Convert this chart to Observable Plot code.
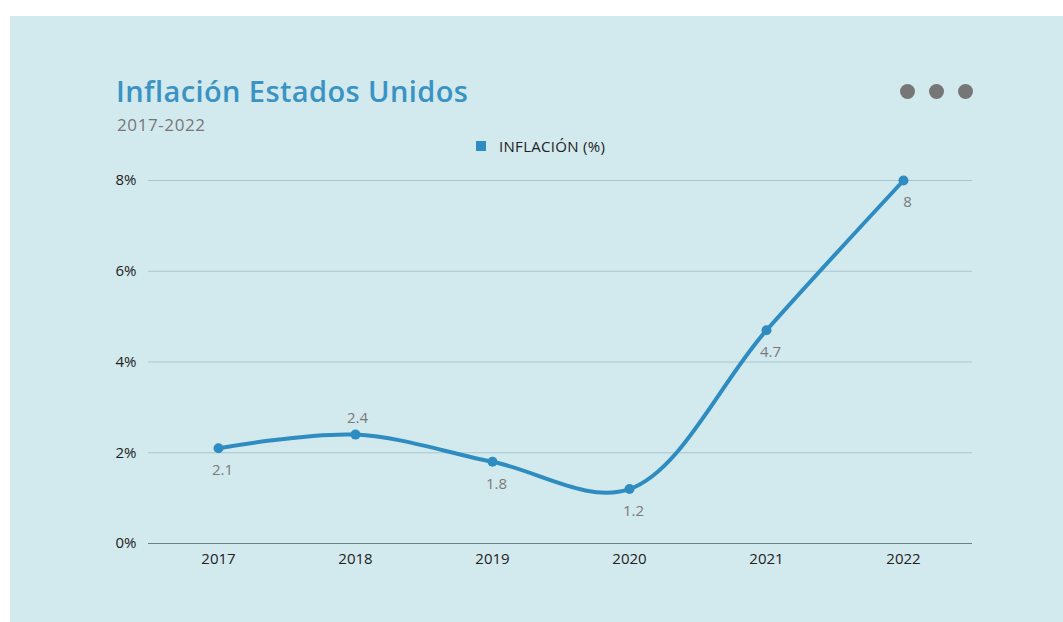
<!DOCTYPE html>
<html>
<head>
<meta charset="utf-8">
<script src="https://cdn.jsdelivr.net/npm/d3@7"></script>
<script src="https://cdn.jsdelivr.net/npm/@observablehq/plot@0.6"></script>
<style>
  html, body { margin: 0; padding: 0; background: #ffffff; width: 1063px; height: 622px; overflow: hidden; }
  #panel { position: absolute; left: 10px; top: 16px; width: 1053px; height: 606px; background: #d2e9ee; font-family: "Open Sans", sans-serif; }
  #title { position: absolute; left: 106px; top: 55px; font-size: 29px; font-weight: 600; color: #3a93c3; letter-spacing: 0.4px; }
  #subtitle { position: absolute; left: 107px; top: 97px; font-size: 17px; color: #777; letter-spacing: 0.6px; }
  #legend { position: absolute; left: 466px; top: 120px; font-size: 15px; color: #222; display: flex; align-items: center; letter-spacing: 0.3px; }
  #legend .sw { width: 10px; height: 10px; background: #2f8cc1; margin-right: 13px; }
  .dot { position: absolute; top: 68px; width: 15px; height: 15px; border-radius: 50%; background: #767676; }
  #chart { position: absolute; left: 0; top: 144px; }
</style>
</head>
<body>
<div id="panel">
  <div id="title">Inflación Estados Unidos</div>
  <div id="subtitle">2017-2022</div>
  <div id="legend"><div class="sw"></div><span>INFLACIÓN (%)</span></div>
  <div class="dot" style="left:890px"></div>
  <div class="dot" style="left:919px"></div>
  <div class="dot" style="left:948px"></div>
  <div id="chart"></div>
</div>
<script>
const years = ["2017", "2018", "2019", "2020", "2021", "2022"];
const inflation = [2.1, 2.4, 1.8, 1.2, 4.7, 8];
const yTicks = [0, 2, 4, 6, 8];
const seriesName = "INFLACIÓN (%)";

const data = years.map((y, i) => ({year: y, value: inflation[i]}));
const lineColor = "#2f8cc1";

const chart = Plot.plot({
  width: 1053,
  height: 440,
  marginTop: 20,
  marginBottom: 57,
  marginLeft: 138,
  marginRight: 91,
  style: {background: "transparent", fontFamily: "'Open Sans', sans-serif", fontSize: "15px", color: "#222"},
  x: {type: "point", domain: years, padding: 0.5, label: null, tickSize: 0, tickPadding: 10},
  y: {domain: [0, 8], ticks: yTicks, tickFormat: d => d + "%", label: null, tickSize: 0, tickPadding: 12},
  marks: [
    Plot.ruleY(yTicks.filter(d => d > 0), {stroke: "#a8c5cc", strokeWidth: 1.2}),
    Plot.ruleY([0], {stroke: "#6c7f86", strokeWidth: 1.2}),
    Plot.line(data, {x: "year", y: "value", curve: "catmull-rom", stroke: lineColor, strokeWidth: 4}),
    Plot.dot(data, {x: "year", y: "value", r: 5, fill: lineColor}),
    Plot.text(data.filter(d => d.year !== "2018"), {x: "year", y: "value", text: d => String(d.value), dy: 22, dx: 4, fill: "#7a7a7a", fontSize: 15}),
    Plot.text(data.filter(d => d.year === "2018"), {x: "year", y: "value", text: d => String(d.value), dy: -16, dx: 2, fill: "#7a7a7a", fontSize: 15})
  ]
});
document.getElementById("chart").appendChild(chart);
</script>
</body>
</html>
